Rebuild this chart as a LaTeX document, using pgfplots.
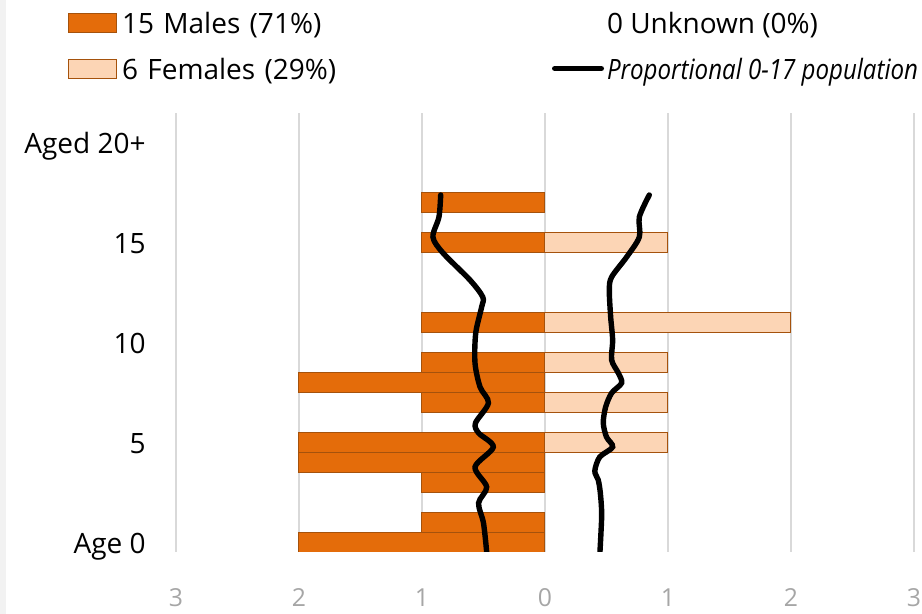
\documentclass[border=0pt]{standalone}
\usepackage{fontspec}
\setmainfont{Open Sans}
\usepackage{pgfplots}
\pgfplotsset{compat=1.18}
\definecolor{mfill}{HTML}{E46C0A}
\definecolor{ffill}{HTML}{FCD5B5}
\definecolor{bdr}{HTML}{A5520C}
\definecolor{gridc}{HTML}{D9D9D9}
\definecolor{tickc}{HTML}{A6A6A6}
\pgfplotsset{
  boxlegend/.style={legend image code/.code={\draw[##1] (0pt,-4.75pt) rectangle (24pt,4.75pt);}},
  emptylegend/.style={legend image code/.code={\path[draw=none,fill=none] (0pt,0pt) rectangle (26pt,0.1pt);}},
  linelegend/.style={legend image code/.code={\draw[black, line width=2.7pt, line cap=round] (1.35pt,0pt) -- (24.65pt,0pt);}},
}
\begin{document}
\begin{tikzpicture}
\useasboundingbox (-88pt,-31pt) rectangle (373pt,276pt);
\fill[gray!10] (-88pt,-31pt) rectangle (-85pt,276pt);
\begin{axis}[
 scale only axis, width=369pt, height=219.5pt,
 xmin=-3, xmax=3, ymin=-0.45, ymax=21.5,
 axis line style={draw=none},
 major tick length=0pt, tick style={draw=none},
 xtick={-3,-2,-1,0,1,2,3}, xticklabels={3,2,1,0,1,2,3},
 xmajorgrids, major grid style={gridc, line width=0.75pt},
 ytick={0,5,10,15,20}, yticklabels={Age 0,5,10,15,Aged 20+},
 yticklabel style={inner sep=0pt, xshift=-15pt, text height=10.5pt, text depth=0pt, font=\fontsize{14}{17}\selectfont},
 xticklabel style={inner sep=0pt, yshift=-18pt, text=tickc, font=\fontsize{12.4}{15}\selectfont},
 legend columns=2,
 legend cell align=left,
 legend style={at={(axis description cs:-0.1463,1.239)}, anchor=north west,
   draw=none, fill=none, inner sep=0pt, outer sep=0pt,
   font=\fontsize{14}{17}\selectfont,
   nodes={inner sep=0pt, text height=12.5pt, text depth=2pt},
   row sep=8.5pt,
   /tikz/column 1/.style={column sep=2.5pt},
   /tikz/column 2/.style={column sep=65pt, nodes={text width=150pt}},
   /tikz/column 3/.style={column sep=1.5pt},
 },
]
\addplot[xbar, bar width=1, bar shift=0pt, fill=mfill, draw=bdr, line width=0.5pt, boxlegend]
 coordinates {(-2,0) (-1,1) (-1,3) (-2,4) (-2,5) (-1,7) (-2,8) (-1,9) (-1,11) (-1,15) (-1,17)};
\addlegendentry{15 Males (71\%)}
\addlegendimage{emptylegend}
\addlegendentry{0 Unknown (0\%)}
\addplot[xbar, bar width=1, bar shift=0pt, fill=ffill, draw=bdr, line width=0.5pt, boxlegend]
 coordinates {(1,5) (1,7) (1,9) (2,11) (1,15)};
\addlegendentry{6 Females (29\%)}
\addplot[black, line width=2.7pt, smooth, line cap=round, linelegend]
 coordinates {(-0.474,-0.45) (-0.50,1.0) (-0.54,2.0) (-0.474,2.8) (-0.569,3.8) (-0.42,4.8) (-0.54,5.5) (-0.565,6.0) (-0.46,7.0) (-0.528,7.8) (-0.569,9.0) (-0.563,10.5) (-0.515,11.8) (-0.506,12.3) (-0.61,13.15) (-0.829,14.5) (-0.911,15.3) (-0.862,16.3) (-0.848,17.4)};
\addlegendentry{\scalebox{0.86}[1]{\textit{Proportional 0-17 population}}}
\addplot[black, line width=2.7pt, smooth, line cap=round, forget plot]
 coordinates {(0.447,-0.43) (0.455,0.5) (0.461,1.5) (0.45,2.5) (0.433,3.15) (0.405,3.6) (0.445,4.3) (0.55,4.8) (0.50,5.3) (0.474,6.0) (0.493,6.8) (0.542,7.5) (0.623,8.0) (0.596,8.5) (0.542,9.15) (0.55,10.15) (0.534,11.3) (0.523,12.65) (0.542,13.3) (0.664,14.3) (0.767,15.3) (0.767,16.3) (0.848,17.4)};
\end{axis}
\end{tikzpicture}
\end{document}
